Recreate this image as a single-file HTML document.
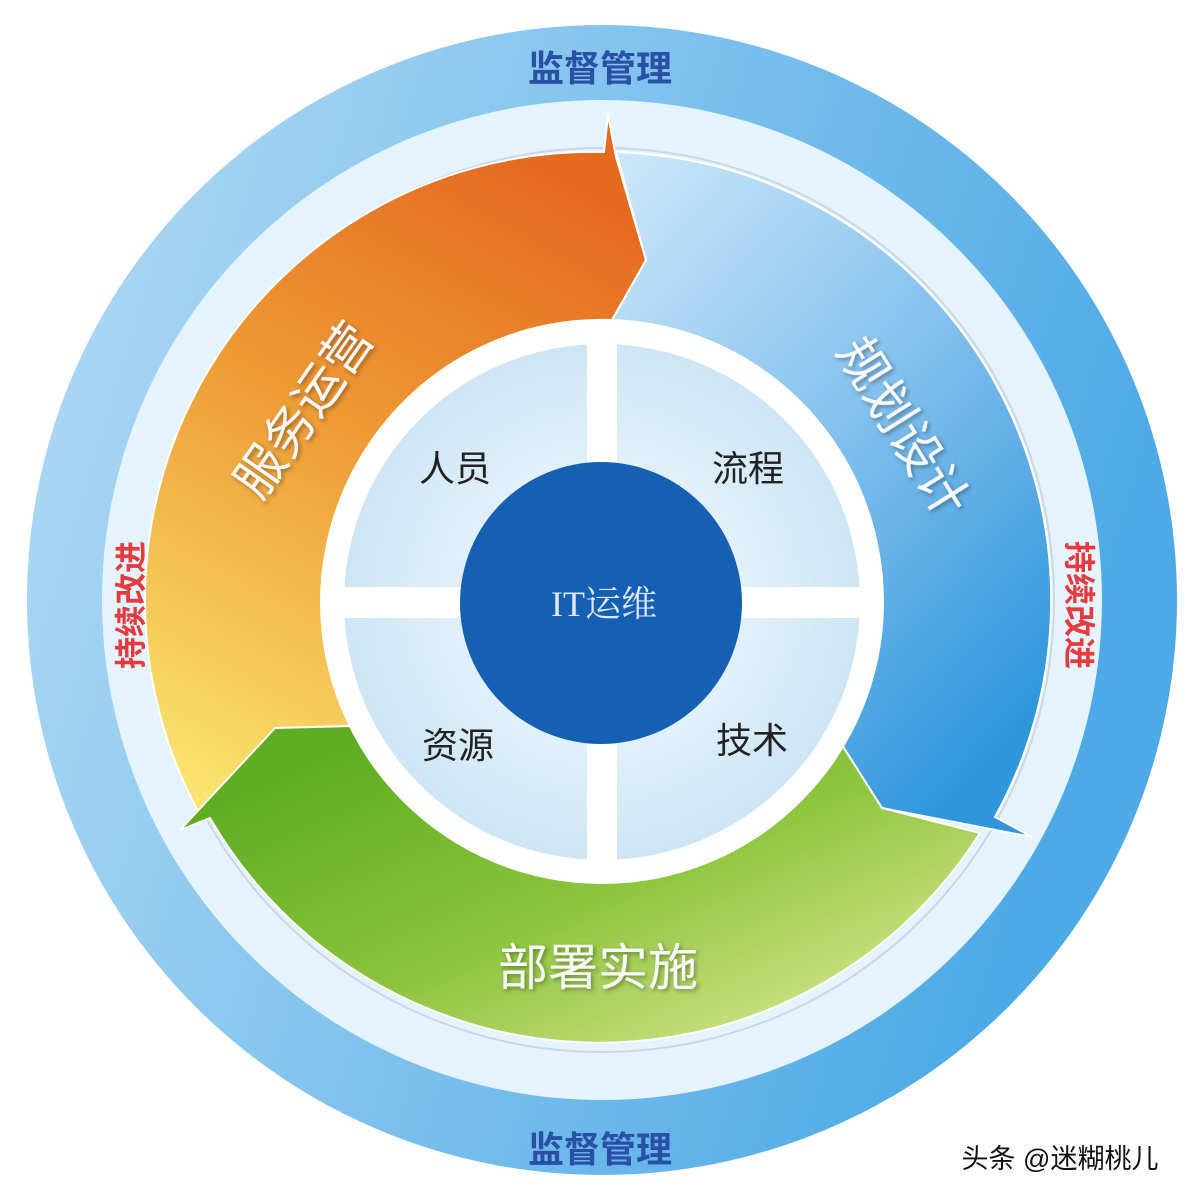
<!DOCTYPE html>
<html><head><meta charset="utf-8">
<style>
html,body{margin:0;padding:0;background:#fff;}
svg{display:block;}
text{font-family:"Liberation Sans","Noto Sans CJK SC",sans-serif;}
</style></head>
<body>
<svg width="1200" height="1198" viewBox="0 0 1200 1198" xmlns="http://www.w3.org/2000/svg">
<defs>
<linearGradient id="ring" x1="0" y1="0" x2="1" y2="0.3">
<stop offset="0" stop-color="#b4dbf5"/><stop offset="1" stop-color="#4eaae6"/></linearGradient>
<linearGradient id="org" x1="0.6" y1="0" x2="0.2" y2="1">
<stop offset="0" stop-color="#e56a20"/><stop offset="0.45" stop-color="#ee9a35"/><stop offset="1" stop-color="#fae36e"/></linearGradient>
<linearGradient id="blu" x1="0" y1="0" x2="0.7" y2="1">
<stop offset="0" stop-color="#cfe8f9"/><stop offset="0.5" stop-color="#86c2ee"/><stop offset="1" stop-color="#2f96dc"/></linearGradient>
<linearGradient id="grn" x1="0.1" y1="0.2" x2="0.9" y2="0.9">
<stop offset="0" stop-color="#5fae22"/><stop offset="0.5" stop-color="#8cc43c"/><stop offset="1" stop-color="#d6e58e"/></linearGradient>
<radialGradient id="quad" cx="0.5" cy="0.5" r="0.5">
<stop offset="0.5" stop-color="#e3f1fb"/><stop offset="1" stop-color="#cde5f6"/></radialGradient>
<filter id="sh" x="-20%" y="-20%" width="140%" height="140%"><feDropShadow dx="2" dy="2" stdDeviation="2" flood-color="#000" flood-opacity="0.35"/></filter>
</defs>
<circle cx="602" cy="600" r="575" fill="url(#ring)"/>
<circle cx="602" cy="600" r="500" fill="#e4f3fc"/>
<circle cx="602" cy="600" r="452" fill="none" stroke="#c9d7e0" stroke-width="2"/>
<!-- blue -->
<path d="M612,320 L646,260 L616,152 A448 448 0 0 1 995,817 L1032,837 L882,808 L842,745 A280 280 0 0 0 612,320 Z" fill="url(#blu)" stroke="#fff" stroke-width="2"/>
<!-- orange -->
<path d="M200,815 A448 448 0 0 1 604,152 L608,115 L616,157 L646,260 L612,320 A280 280 0 0 0 352,726 L275,728 Z" fill="url(#org)" stroke="#fff" stroke-width="2"/>
<!-- green -->
<path d="M842,745 L882,808 L980,833 A450 450 0 0 1 210,818 L180,830 L275,728 L352,726 A280 280 0 0 0 842,745 Z" fill="url(#grn)" stroke="#fff" stroke-width="2"/>
<!-- inner -->
<circle cx="602" cy="602" r="282" fill="#fff"/>
<circle cx="602" cy="602" r="258" fill="url(#quad)"/>
<rect x="587" y="330" width="30" height="550" fill="#fff"/>
<rect x="330" y="587" width="550" height="31" fill="#fff"/>
<circle cx="601" cy="603" r="141" fill="#1560b2"/>
<text x="604" y="616" font-size="36" fill="#dfe8f4" text-anchor="middle" style="font-family:'Liberation Serif','Noto Serif CJK SC',serif">IT运维</text>
<g font-size="36" fill="#222" text-anchor="middle">
<text x="455" y="481">人员</text>
<text x="748" y="481">流程</text>
<text x="458" y="758">资源</text>
<text x="752" y="753">技术</text>
</g>
<g font-size="36" fill="#2a4fa6" text-anchor="middle" font-weight="bold">
<text x="600" y="81">监督管理</text>
<text x="600" y="1162">监督管理</text>
</g>
<g font-size="32" fill="#e53a40" text-anchor="middle" font-weight="bold">
<text transform="translate(142,605) rotate(-90)">持续改进</text>
<text transform="translate(1068,605) rotate(90)">持续改进</text>
</g>
<g font-size="50" fill="#f8f8f8" text-anchor="middle" filter="url(#sh)">
<text transform="translate(318,420) rotate(-55)">服务运营</text>
<text transform="translate(888,436) rotate(58)">规划设计</text>
<text x="598" y="985">部署实施</text>
</g>
<text x="1060" y="1168" font-size="27" fill="#111" text-anchor="middle">头条 @迷糊桃儿</text>
</svg>
</body></html>
